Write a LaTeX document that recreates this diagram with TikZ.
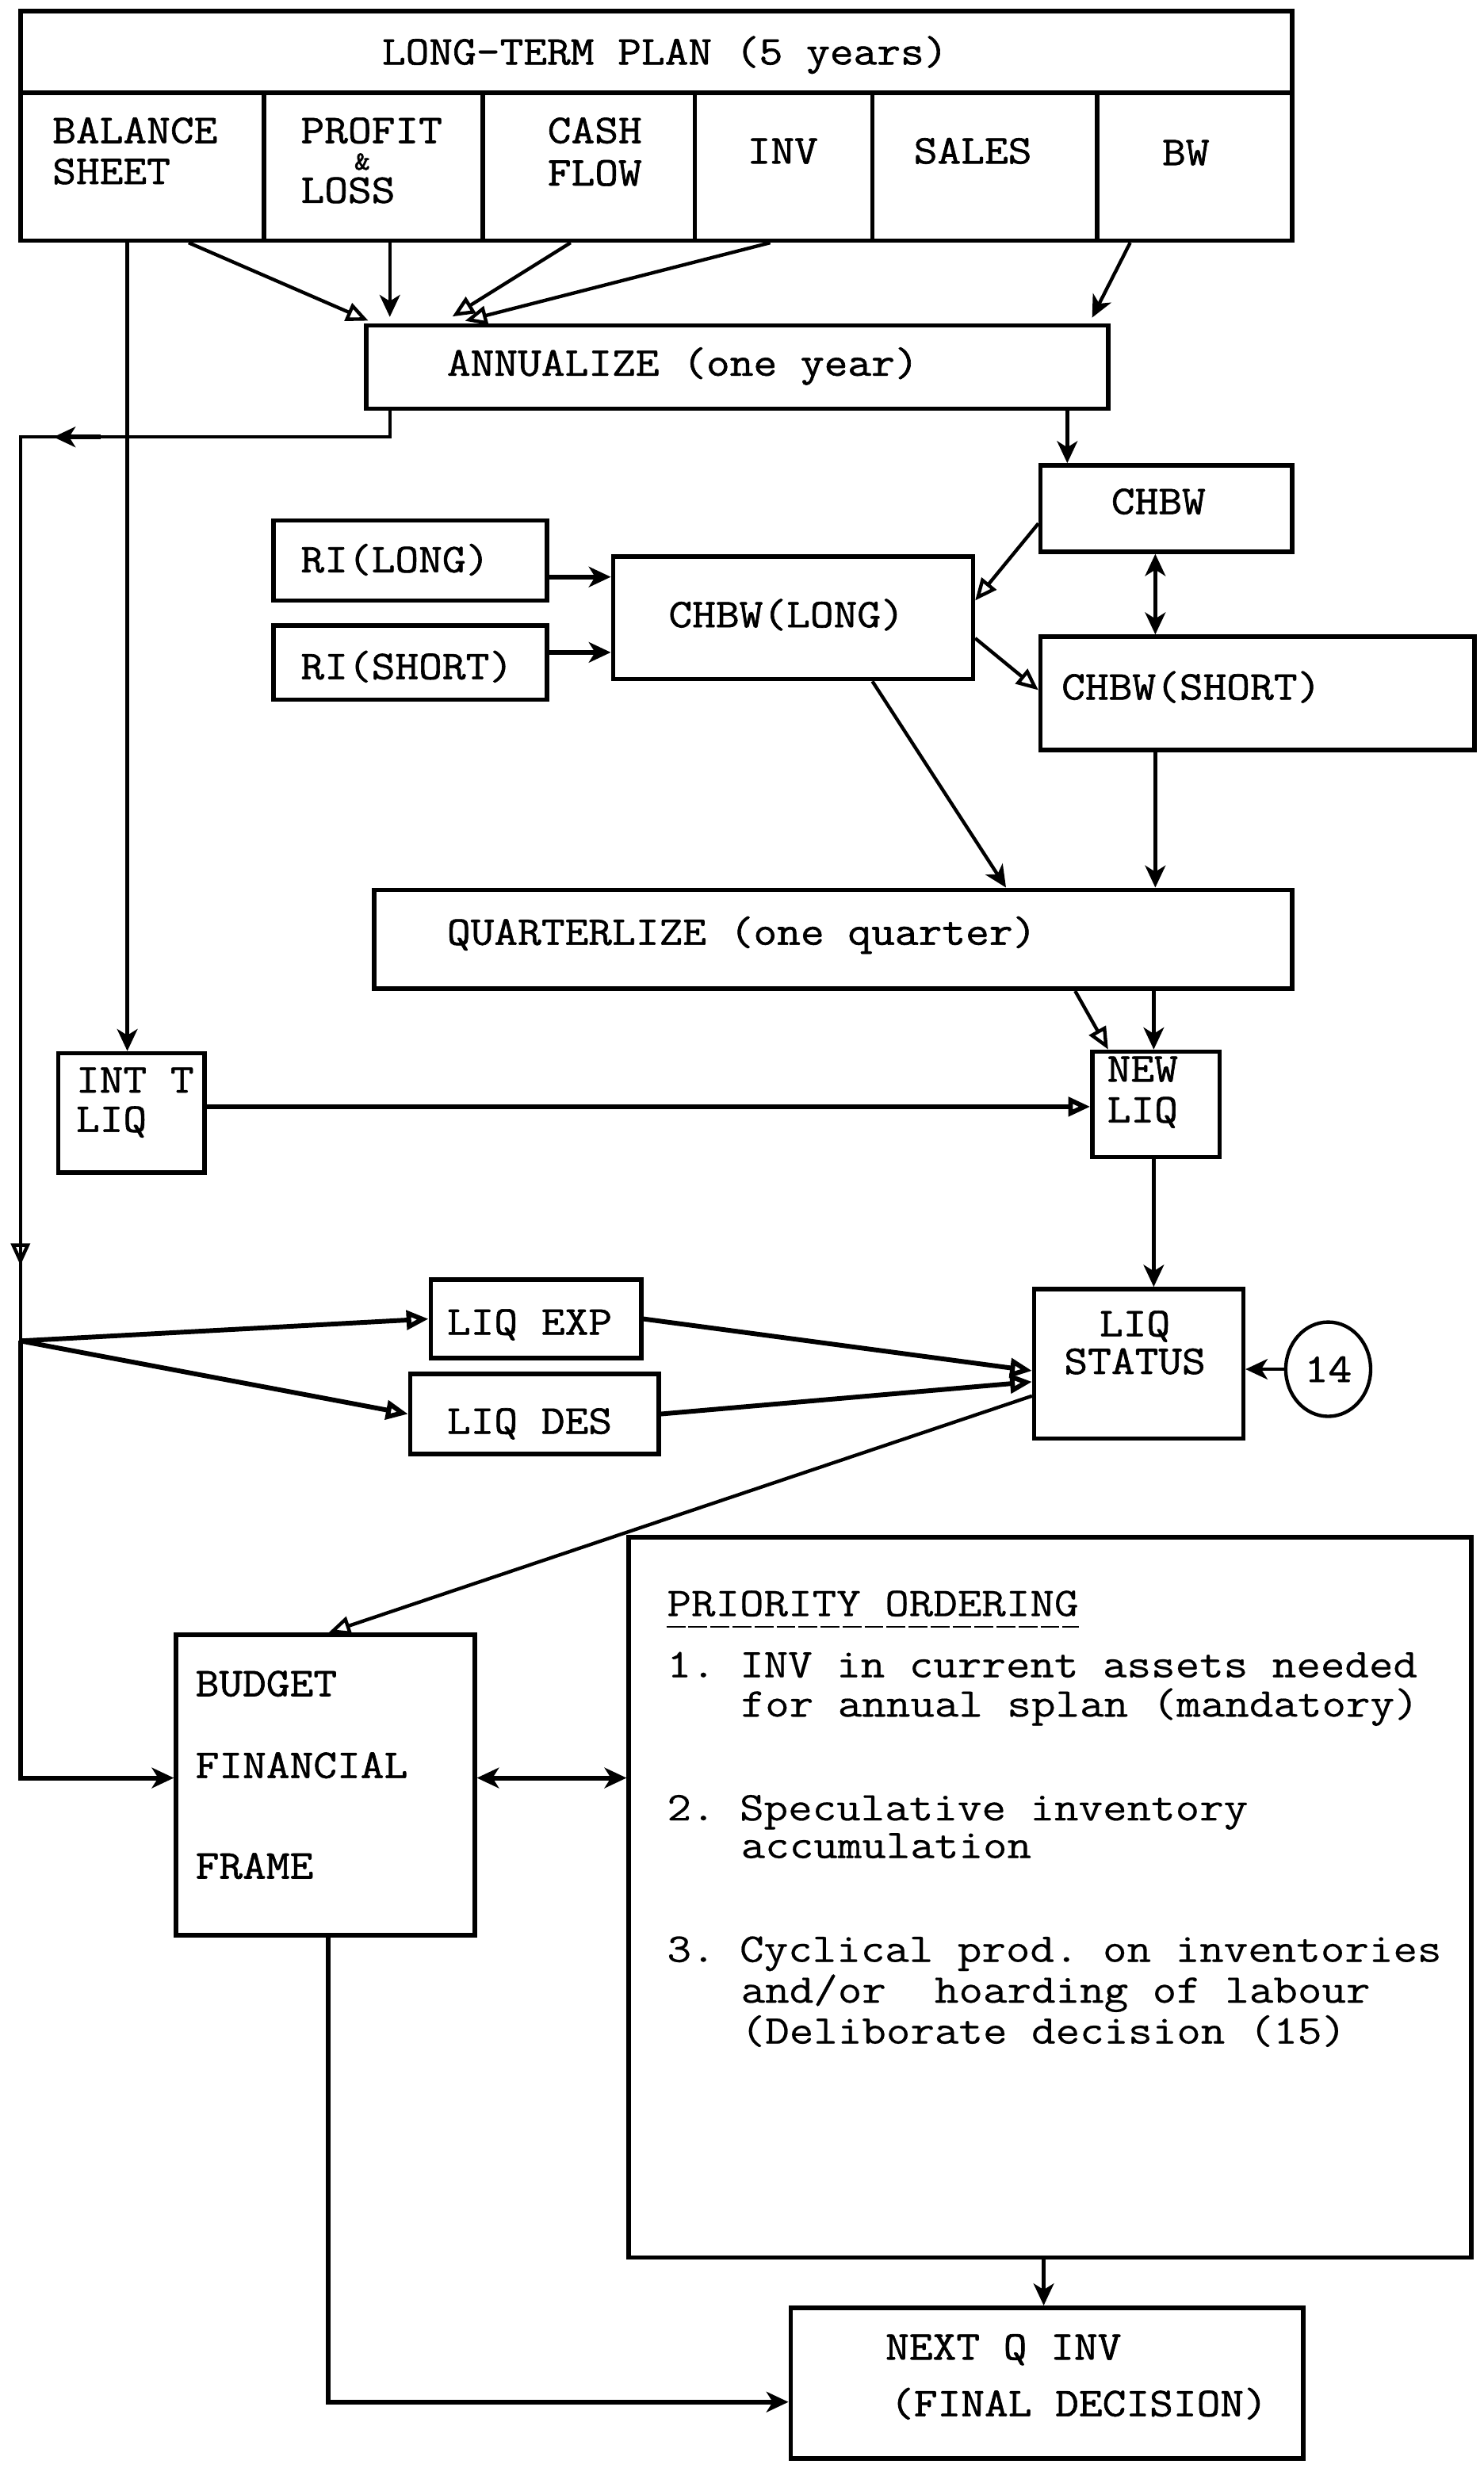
\documentclass[tikz,border=0pt]{standalone}
\usepackage{fontspec}
\newfontfamily\twfont[FakeStretch=1.12,FakeBold=1.2]{Latin Modern Mono}
\newfontfamily\twlight[FakeStretch=1.15,FakeBold=0.4]{Latin Modern Mono}
\usetikzlibrary{arrows.meta,fit,shapes.geometric}
\begin{document}
\frenchspacing
\begin{tikzpicture}[x=0.5pt,y=-0.5pt,
  box/.style={draw,line width=1.4pt,inner sep=0pt,rectangle},
  conn/.style={line width=1.1pt},
  thk/.style={line width=1.5pt},
  fa/.style={-{Stealth[length=7pt,width=6.5pt,inset=2pt]}},
  oa/.style={-{Triangle[open,length=7pt,width=6pt]}},
  dfa/.style={{Stealth[length=7pt,width=6.5pt,inset=2pt]}-{Stealth[length=7pt,width=6.5pt,inset=2pt]}},
  txt/.style={anchor=base west,inner sep=0pt,font=\twfont\fontsize{13}{15}\selectfont},
  ltxt/.style={txt,font=\twlight\fontsize{13}{15}\selectfont},
  ctxt/.style={txt,anchor=base}]
\fill[white] (0,0) rectangle (944,1570);
\useasboundingbox (0,0) rectangle (944,1570);

% boxes
\node[box,fit={(13,7)(822,59)}] (ltp) {};
\node[box,fit={(13,59)(168,153)}] (bs) {};
\node[box,fit={(168,59)(307,153)}] (pl) {};
\node[box,fit={(307,59)(442,153)}] (cf) {};
\node[box,fit={(442,59)(555,153)}] (inv) {};
\node[box,fit={(555,59)(698,153)}] (sal) {};
\node[box,fit={(698,59)(822,153)}] (bw) {};
\node[box,fit={(233,207)(705,260)}] (ann) {};
\node[box,fit={(662,296)(822,351)}] (chbw) {};
\node[box,fit={(174,331)(348,382)}] (ril) {};
\node[box,fit={(174,398)(348,445)}] (ris) {};
\node[box,fit={(390,354)(619,432)}] (chl) {};
\node[box,fit={(662,405)(938,477)}] (chs) {};
\node[box,fit={(238,566)(822,629)}] (qtr) {};
\node[box,fit={(37,670)(130,746)}] (intt) {};
\node[box,fit={(695,669)(776,736)}] (newl) {};
\node[box,fit={(658,820)(791,915)}] (lstat) {};
\node[box,fit={(274,814)(408,864)}] (lexp) {};
\node[box,fit={(261,874)(419,925)}] (ldes) {};
\node[box,fit={(112,1040)(302,1231)}] (bud) {};
\node[box,fit={(400,978)(936,1436)}] (pri) {};
\node[box,fit={(503,1468)(829,1564)}] (nxt) {};
\node[draw,ellipse,line width=1.1pt,minimum width=27pt,minimum height=30pt,inner sep=0pt,
      font=\twfont\fontsize{13}{15}\selectfont] (c14) at (845,871) {14};

% texts
\node[ctxt] (tltp) at (423,41) {LONG-TERM PLAN (5 years)};
\node[txt] (tbs1) at (33,91) {BALANCE};
\node[txt] (tbs2) at (33,117) {SHEET};
\node[txt] (tpl1) at (191,91) {PROFIT};
\node[txt,font=\twfont\fontsize{8.5}{9}\selectfont] (tpl2) at (225,108) {\&};
\node[txt] (tpl3) at (191,129) {LOSS};
\node[txt] (tcf1) at (348,91) {CASH};
\node[txt] (tcf2) at (348,118) {FLOW};
\node[txt] (tinv) at (475,104) {INV};
\node[txt] (tsal) at (581,104) {SALES};
\node[txt] (tbw) at (739,105) {BW};
\node[txt] (tann) at (284,239) {ANNUALIZE (one year)};
\node[ctxt] (tchbw) at (737,327) {CHBW};
\node[txt] (tril) at (191,364) {RI(LONG)};
\node[txt] (tris) at (191,432) {RI(SHORT)};
\node[txt] (tchl) at (425,399) {CHBW(LONG)};
\node[txt] (tchs) at (675,445) {CHBW(SHORT)};
\node[txt] (tqtr) at (284,601) {QUARTERLIZE (one quarter)};
\node[txt] (tint1) at (48,695) {INT T};
\node[txt] (tint2) at (48,720) {LIQ};
\node[txt] (tnew1) at (704,688) {NEW};
\node[txt] (tnew2) at (704,714) {LIQ};
\node[ctxt] (tls1) at (722,850) {LIQ};
\node[ctxt] (tls2) at (722,874) {STATUS};
\node[txt] (tle) at (284,849) {LIQ EXP};
\node[txt] (tld) at (284,912) {LIQ DES};
\node[ltxt] (tpo) at (424,1028) {PRIORITY ORDERING};
\draw[line width=0.6pt,dash pattern=on 6pt off 1pt] (tpo.base west) ++(0,7) coordinate (ul1) -- (ul1 -| tpo.east);
\node[ltxt] (tp1a) at (424,1067) {1. INV in current assets needed};
\node[ltxt] (tp1b) at (471,1092) {for annual splan (mandatory)};
\node[ltxt] (tp2a) at (424,1158) {2. Speculative inventory};
\node[ltxt] (tp2b) at (471,1182) {accumulation};
\node[ltxt] (tp3a) at (424,1248) {3. Cyclical prod. on inventories};
\node[ltxt] (tp3b) at (471,1274) {and/or~~hoarding of labour};
\node[ltxt] (tp3c) at (471,1300) {(Deliborate decision (15)};
\node[txt] (tbud1) at (124,1079) {BUDGET};
\node[txt] (tbud2) at (124,1131) {FINANCIAL};
\node[txt] (tbud3) at (124,1195) {FRAME};
\node[txt] (tnx1) at (563,1501) {NEXT Q INV};
\node[txt] (tnx2) at (566,1537) {(FINAL DECISION)};

% connectors: top plan to annualize
\draw[conn,oa,shorten >=2pt] (bs.south -| 120,0) -- (ann.north -| 238,0);
\draw[conn,fa,shorten >=2pt] (pl.south -| 248,0) -- (ann.north -| 248,0);
\draw[conn,oa,shorten >=4pt] (cf.south -| 363,0) -- (ann.north -| 281,0);
\draw[conn,oa,shorten >=3pt] (inv.south -| 490,0) -- (ann.north -| 290,0);
\draw[conn,fa,shorten >=2pt] (bw.south -| 719,0) -- (ann.north -| 693,0);
\draw[conn,fa] (bs.south -| 81,0) -- (intt.north -| 81,0);

% left loop line
\coordinate (j1) at (13,278);
\coordinate (j2) at (13,853);
\coordinate (m1) at (64,278);
\coordinate (m1e) at (34,278);
\coordinate (m2) at (13,775);
\coordinate (m2e) at (13,805);
\draw[conn] (ann.south -| 248,0) |- (j1) -- (j2);
\draw[thk,fa] (m1) -- (m1e);
\draw[conn,oa] (m2) -- (m2e);
\draw[thk,fa] (j2) |- (bud.west |- 0,1131);
\draw[thk,oa] (j2) -- (lexp.west);
\draw[thk,oa] (j2) -- (ldes.west);

% middle section
\draw[conn,fa] (ann.south -| 679,0) -- (chbw.north -| 679,0);
\draw[thk,fa] (ril.east |- 0,367) -- (chl.west |- 0,367);
\draw[thk,fa] (ris.east |- 0,415) -- (chl.west |- 0,415);
\draw[conn,oa] (chbw.west |- 0,333) -- (chl.east |- 0,382);
\draw[conn,oa] (chl.east |- 0,406) -- (chs.west |- 0,439);
\draw[conn,dfa] (chbw.south -| 735,0) -- (chs.north -| 735,0);
\draw[conn,fa] (chl.south -| 555,0) -- (qtr.north -| 640,0);
\draw[conn,fa] (chs.south -| 735,0) -- (qtr.north -| 735,0);
\draw[conn,oa] (qtr.south -| 684,0) -- (newl.north -| 705,0);
\draw[conn,fa] (qtr.south -| 734,0) -- (newl.north -| 734,0);
\draw[thk,oa] (intt.east |- 0,704) -- (newl.west |- 0,704);
\draw[conn,fa] (newl.south -| 734,0) -- (lstat.north -| 734,0);
\draw[conn,fa] (c14.west) -- (lstat.east |- c14.west);
\draw[thk,oa] (lexp.east) -- (lstat.west |- 0,872);
\draw[thk,oa] (ldes.east) -- (lstat.west |- 0,879);
\draw[conn,oa] (lstat.west |- 0,888) -- (bud.north -| 209,0);

% bottom section
\draw[thk,dfa] (bud.east |- 0,1131) -- (pri.west |- 0,1131);
\draw[conn,fa] (pri.south -| 664,0) -- (nxt.north -| 664,0);
\draw[thk,fa] (bud.south -| 209,0) |- (nxt.west |- 0,1528);
\end{tikzpicture}
\end{document}
